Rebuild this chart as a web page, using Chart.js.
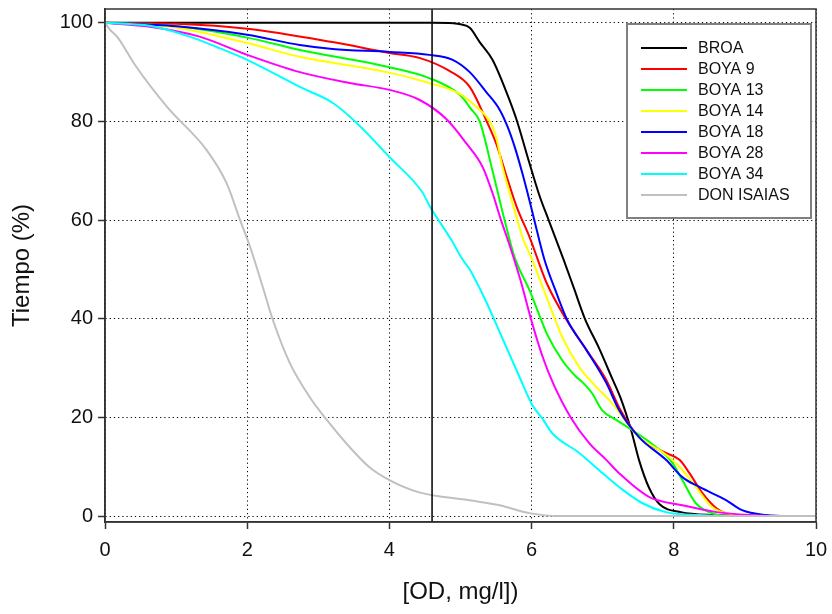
<!DOCTYPE html>
<html>
<head>
<meta charset="utf-8">
<script src="https://cdn.jsdelivr.net/npm/chart.js@4.4.0/dist/chart.umd.min.js"></script>
<style>
  html, body { margin: 0; padding: 0; background: #ffffff; }
  canvas { display: block; }
</style>
</head>
<body>
<canvas id="c" width="832" height="614"></canvas>
<script>
// ---- data ----
const seriesNames = ["BROA", "BOYA 9", "BOYA 13", "BOYA 14", "BOYA 18", "BOYA 28", "BOYA 34", "DON ISAIAS"];
const seriesColors = ["#000000", "#ff0000", "#00ff00", "#ffff00", "#0000ff", "#ff00ff", "#00ffff", "#c0c0c0"];

const xTicks = [0, 2, 4, 6, 8, 10];
const yTicks = [0, 20, 40, 60, 80, 100];
const markerX = 4.6;

const broaX = [0, 1, 2, 3, 4, 4.6, 4.9, 5.0, 5.13, 5.27, 5.45, 5.65, 5.79, 5.95, 6.11, 6.24, 6.45, 6.6, 6.75, 6.95, 7.13, 7.25, 7.4, 7.51, 7.65, 7.8, 8.1, 8.6, 9.0, 10];
const broaY = [100, 100, 100, 100, 100, 100, 99.9, 99.7, 99, 96.1, 92.5, 85.8, 80.3, 72.5, 65, 60, 52, 46, 40, 34, 28, 24, 17.4, 11.4, 5.8, 2.4, 0.8, 0.2, 0, 0];

const boya9X = [0, 1, 2, 3.2, 4, 4.42, 4.85, 5.13, 5.36, 5.5, 5.65, 5.79, 5.97, 6.21, 6.49, 6.77, 7.05, 7.25, 7.51, 7.89, 8.08, 8.22, 8.4, 8.6, 8.82, 9.2, 10];
const boya9Y = [100, 99.8, 98.8, 96.1, 93.9, 92.9, 90.2, 87, 80.3, 75.6, 68.8, 62.7, 56.6, 47.3, 39.8, 33.7, 27.6, 21.5, 16, 12.8, 11.4, 8.7, 4.7, 1.6, 0.3, 0, 0];

const boya13X = [0, 1, 2, 2.74, 4, 4.56, 4.99, 5.15, 5.27, 5.45, 5.62, 5.76, 5.97, 6.11, 6.21, 6.43, 6.63, 6.71, 6.85, 6.99, 7.19, 7.42, 7.75, 7.98, 8.12, 8.31, 8.5, 8.8, 10];
const boya13Y = [100, 99.3, 97, 94.5, 91, 88.8, 85.4, 82.5, 80, 70, 60, 52.5, 45.8, 40.7, 37.1, 31.6, 28.2, 27.2, 24.9, 21.5, 19.5, 17.4, 14, 10.8, 7.3, 2.6, 0.8, 0, 0];

const boya14X = [0, 1, 2, 2.74, 4, 4.56, 4.99, 5.22, 5.42, 5.5, 5.59, 5.73, 5.8, 5.87, 6.01, 6.21, 6.3, 6.43, 6.67, 6.91, 7.13, 7.51, 7.84, 8.08, 8.31, 8.54, 8.82, 9.2, 10];
const boya14Y = [100, 99, 95.9, 93.1, 89.9, 87.8, 85.6, 83, 79.8, 76.9, 70.8, 63.5, 60, 56.6, 51.9, 44.4, 41, 36.3, 30.2, 26.2, 22.9, 16, 13, 10, 5.9, 1.8, 0.4, 0, 0];

const boya18X = [0, 1, 2, 2.74, 3.2, 4, 4.56, 4.89, 5.13, 5.36, 5.55, 5.66, 5.77, 5.87, 5.97, 6.03, 6.18, 6.35, 6.5, 6.77, 7.05, 7.23, 7.51, 7.89, 8.12, 8.36, 8.74, 8.96, 9.3, 9.6, 10];
const boya18Y = [100, 99.3, 97.6, 95.5, 94.7, 94.1, 93.5, 92.5, 90, 86, 82.4, 79, 74.5, 69.5, 64, 60.5, 52, 45.2, 39.8, 33.7, 27, 21.5, 16, 11.4, 7.9, 5.9, 3.2, 1.2, 0.2, 0, 0];

const boya28X = [0, 0.63, 1.33, 2, 2.74, 3.44, 4, 4.42, 4.8, 5.08, 5.31, 5.45, 5.57, 5.7, 5.85, 5.99, 6.15, 6.3, 6.55, 6.81, 7.05, 7.23, 7.65, 8.12, 8.6, 9.06, 9.5, 10];
const boya28Y = [100, 99.2, 97.2, 93.5, 90, 87.8, 86.4, 84.4, 80.5, 75.6, 70.8, 65.5, 60, 54.5, 47.5, 40, 32.5, 27, 20, 14.8, 11.4, 8.7, 3.9, 2.2, 0.8, 0.2, 0, 0];

const boya34X = [0, 0.63, 1.19, 1.57, 2, 2.74, 3.2, 3.54, 4, 4.47, 4.56, 4.87, 5.03, 5.13, 5.36, 5.59, 5.83, 6.01, 6.15, 6.29, 6.67, 6.95, 7.23, 7.56, 7.89, 8.36, 8.8, 10];
const boya34Y = [100, 99.4, 97.2, 95.1, 92.5, 87, 83.8, 79.7, 72.8, 65.5, 63, 56, 52, 50, 43.5, 36, 28.2, 22.5, 19.8, 16.8, 12.8, 9.3, 5.9, 2.6, 0.8, 0.2, 0, 0];

const donX = [0, 0.07, 0.18, 0.42, 0.87, 1.43, 1.71, 1.9, 2.04, 2.22, 2.36, 2.6, 2.88, 3.12, 3.44, 3.72, 4, 4.42, 5.13, 5.55, 5.97, 6.39, 7, 10];
const donY = [100, 98.6, 97, 91.5, 83, 74.2, 67.5, 60, 54.6, 46.4, 39.8, 31, 24.1, 19.5, 14, 9.9, 7.3, 4.8, 3.2, 2.2, 0.6, 0, 0, 0];

const seriesX = [broaX, boya9X, boya13X, boya14X, boya18X, boya28X, boya34X, donX];
const seriesY = [broaY, boya9Y, boya13Y, boya14Y, boya18Y, boya28Y, boya34Y, donY];

// ---- chart ----
const FONT = "'Liberation Sans', Arial, sans-serif";

const datasets = seriesNames.map((name, i) => ({
  label: name,
  data: seriesX[i].map((x, j) => ({ x: x, y: seriesY[i][j] })),
  borderColor: seriesColors[i],
  backgroundColor: seriesColors[i],
  borderWidth: 2,
  pointRadius: 0,
  fill: false,
  cubicInterpolationMode: 'monotone',
  order: seriesNames.length - i
}));

const framePlugin = {
  id: 'frameAndExtras',
  afterDatasetsDraw(chart) {
    const { ctx, chartArea: a, scales } = chart;
    const px = scales.x.getPixelForValue(markerX);
    ctx.save();
    ctx.strokeStyle = '#000000';
    ctx.lineWidth = 1.5;
    ctx.beginPath();
    ctx.moveTo(px, a.top);
    ctx.lineTo(px, a.bottom);
    ctx.stroke();
    ctx.restore();
  },
  afterDraw(chart) {
    const { ctx, chartArea: a } = chart;
    ctx.save();
    ctx.strokeStyle = '#333333';
    ctx.lineWidth = 1.5;
    ctx.strokeRect(a.left, a.top, a.right - a.left, a.bottom - a.top);

    // legend box
    const bx = a.left + 522, by = a.top + 15, bw = 184, bh = 194;
    ctx.fillStyle = '#ffffff';
    ctx.fillRect(bx, by, bw, bh);
    ctx.strokeStyle = '#808080';
    ctx.lineWidth = 2;
    ctx.strokeRect(bx, by, bw, bh);
    ctx.font = "16px " + FONT;
    ctx.textBaseline = 'middle';
    ctx.textAlign = 'left';
    seriesNames.forEach((name, i) => {
      const y = by + 24 + i * 21;
      ctx.strokeStyle = seriesColors[i];
      ctx.lineWidth = 2;
      ctx.beginPath();
      ctx.moveTo(bx + 14, y);
      ctx.lineTo(bx + 60, y);
      ctx.stroke();
      ctx.fillStyle = '#111111';
      ctx.fillText(name, bx + 71, y + 1);
    });
    ctx.restore();
  }
};

const gridOpts = {
  color: '#000000',
  lineWidth: 1,
  tickBorderDash: [],
  tickColor: '#333333',
  tickLength: 7,
  tickWidth: 1.5
};
const borderOpts = { display: true, color: '#333333', width: 1.5, dash: [1.2, 3] };

new Chart(document.getElementById('c'), {
  type: 'line',
  data: { datasets },
  plugins: [framePlugin],
  options: {
    responsive: false,
    animation: false,
    devicePixelRatio: 1,
    layout: { padding: { top: 9, right: 16, left: 0, bottom: 0 } },
    plugins: { legend: { display: false }, tooltip: { enabled: false } },
    scales: {
      x: {
        type: 'linear',
        min: 0,
        max: 10,
        afterBuildTicks(s) { s.ticks = xTicks.map(v => ({ value: v })); },
        afterFit(s) { s.height = 92; s.paddingLeft = 0; s.paddingRight = 0; },
        grid: gridOpts,
        border: borderOpts,
        ticks: { font: { size: 20, family: FONT }, color: '#111111', padding: 9, maxRotation: 0 },
        title: {
          display: true,
          text: '[OD, mg/l])',
          font: { size: 24, family: FONT },
          color: '#111111',
          padding: { top: 0, bottom: 7 }
        }
      },
      y: {
        type: 'linear',
        min: -1.2,
        max: 102.8,
        afterBuildTicks(s) { s.ticks = yTicks.map(v => ({ value: v })); },
        afterFit(s) { s.width = 105; s.paddingTop = 0; s.paddingBottom = 0; },
        grid: gridOpts,
        border: borderOpts,
        ticks: { font: { size: 20, family: FONT }, color: '#111111', padding: 5 },
        title: {
          display: true,
          text: 'Tiempo (%)',
          font: { size: 24, family: FONT },
          color: '#111111',
          padding: { top: 8, bottom: 0 }
        }
      }
    }
  }
});
</script>
</body>
</html>
